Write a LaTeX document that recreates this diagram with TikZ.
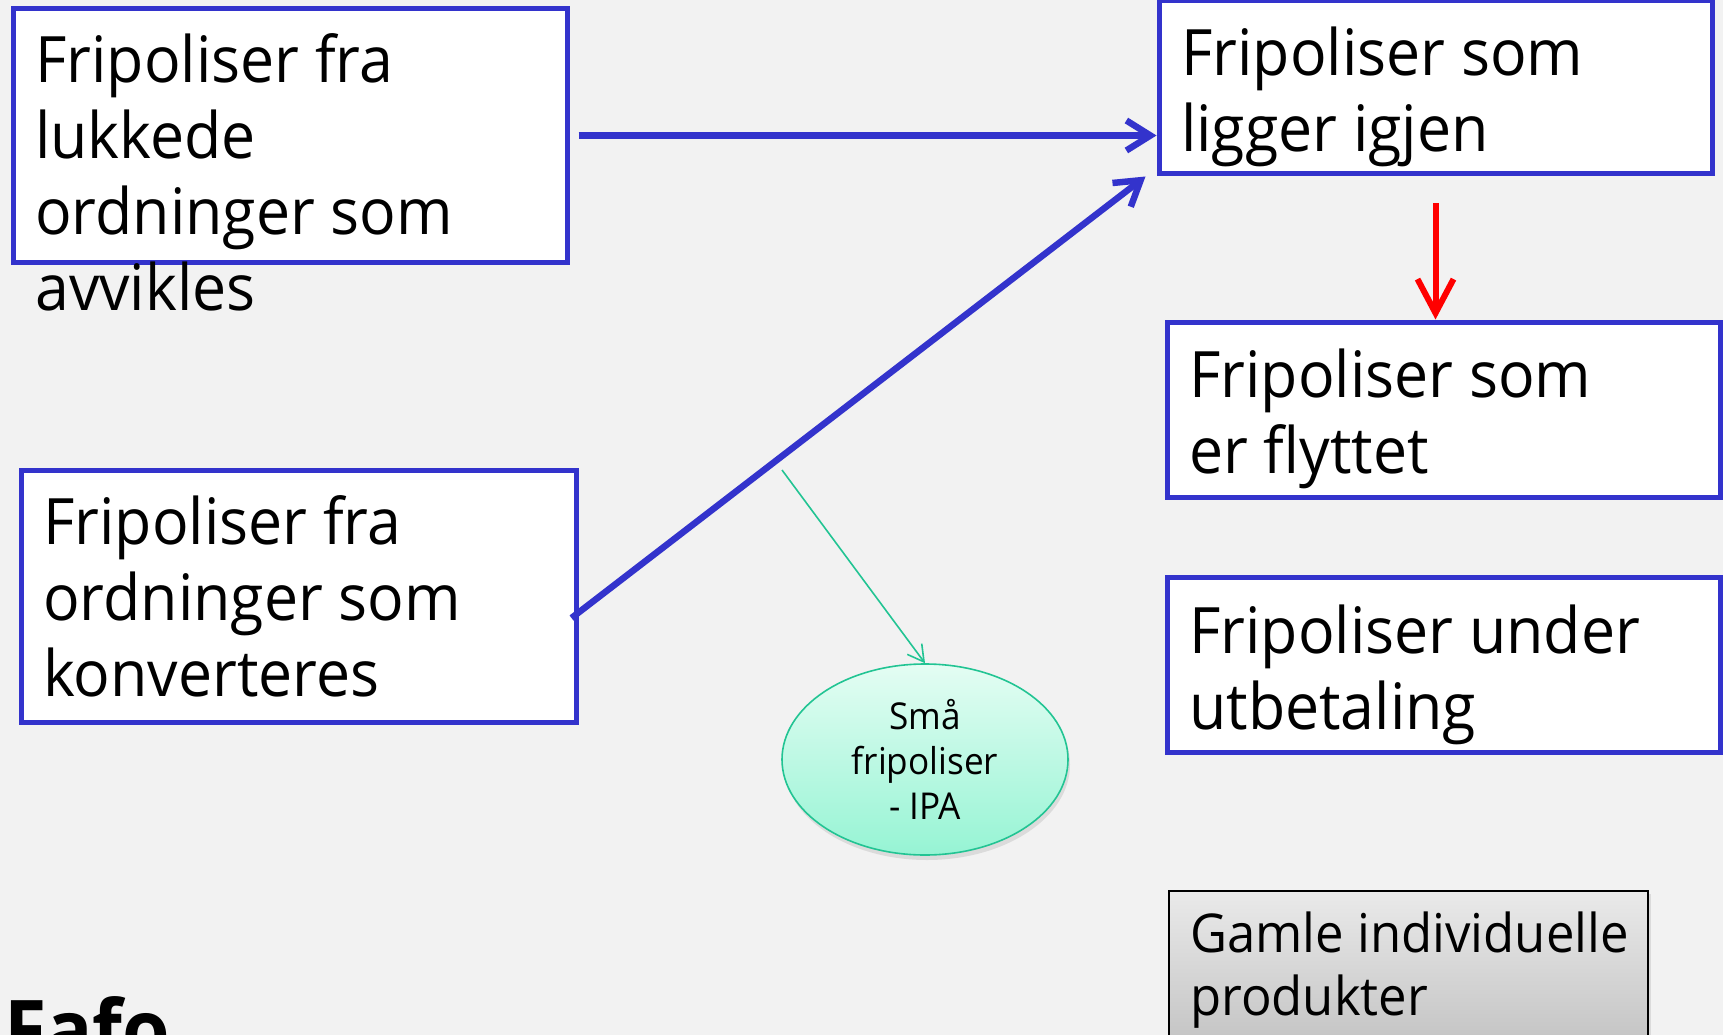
\documentclass[tikz,border=0pt]{standalone}
\usepackage{fontspec}
\setmainfont[FakeStretch=0.95]{Open Sans}
\usetikzlibrary{arrows.meta,shadows,shapes.geometric}
\definecolor{bg}{HTML}{F2F2F2}
\definecolor{bblue}{HTML}{3333CC}
\definecolor{mintline}{HTML}{22C493}
\definecolor{minttop}{HTML}{E4FDF3}
\definecolor{mintbot}{HTML}{96F4D4}
\definecolor{greytop}{HTML}{EAEAEA}
\definecolor{greybot}{HTML}{B8B8B8}
\begin{document}
\begin{tikzpicture}[x=1pt,y=-1pt,
  box/.style={draw=bblue, line width=5pt, fill=white, rectangle, inner sep=0pt},
  txt/.style={anchor=north west, align=left, inner sep=0pt, font=\fontsize{64}{76}\selectfont},
  smalltxt/.style={anchor=north west, align=left, inner sep=0pt, font=\fontsize{53.5}{63}\selectfont},
  bluearrow/.style={draw=bblue, line width=6.5pt, -{Straight Barb[length=24pt,width=30pt]}},
  redarrow/.style={draw=red, line width=6pt, -{Straight Barb[length=34pt,width=36pt]}},
  greenarrow/.style={draw=mintline, line width=1.6pt, -{Straight Barb[length=16pt,width=18pt]}}
]
\useasboundingbox (0,0) rectangle (1723,1035);
\clip (0,0) rectangle (1723,1035);
\fill[bg] (0,0) rectangle (1723,1035);

% boxes
\node[box, minimum width=554pt, minimum height=253pt] (A) at (290,135.5) {};
\node[box, minimum width=555pt, minimum height=252pt] (B) at (298.5,596) {};
\node[box, minimum width=553pt, minimum height=173pt] (C) at (1435.5,87.5) {};
\node[box, minimum width=553pt, minimum height=175pt] (D) at (1443.5,409.5) {};
\node[box, minimum width=553pt, minimum height=175pt] (E) at (1443.5,664.5) {};
\node[draw=black, line width=1.2pt, rectangle, inner sep=0pt, top color=greytop, bottom color=greybot,
      drop shadow={shadow xshift=3pt, shadow yshift=-3pt, opacity=0.2},
      minimum width=479pt, minimum height=200pt] (F) at (1408.5,991) {};

% texts
\node[txt] (tA) at (35,22) {\rule{0pt}{60pt}Fripoliser fra\\lukkede\\ordninger som\\avvikles};
\node[txt] (tB) at (43,484) {\rule{0pt}{60pt}Fripoliser fra\\ordninger som\\konverteres};
\node[txt] (tC) at (1181,15) {\rule{0pt}{60pt}Fripoliser som\\ligger igjen};
\node[txt] (tD) at (1189,337) {\rule{0pt}{60pt}Fripoliser som\\er flyttet};
\node[txt] (tE) at (1189,593) {\rule{0pt}{60pt}Fripoliser under\\utbetaling};
\node[smalltxt] (tF) at (1190,902) {\rule{0pt}{50pt}Gamle individuelle\\produkter};

% ellipse
\node[ellipse, draw=mintline, line width=1.6pt, top color=minttop, bottom color=mintbot,
      drop shadow={shadow xshift=2pt, shadow yshift=-5pt, opacity=0.2},
      minimum width=286pt, minimum height=191pt, inner sep=0pt, align=center,
      font=\fontsize{37}{45}\selectfont] (S) at (925,759.5) {Små\\fripoliser\\- IPA};

% logo text
\node[anchor=north west, inner sep=0pt, font=\fontsize{81}{81}\selectfont\bfseries] (logo) at (4,996) {Fafo};

% connectors
\draw[bluearrow, shorten <=9pt] (A.east) -- (A.east -| C.west);
\draw[bluearrow] ([xshift=-7pt,yshift=-22pt]B.east) -- ([xshift=-11pt]C.south west);
\draw[redarrow, shorten <=27pt] (C.south) -- (C.south |- D.north);
\coordinate (g0) at (782,470);
\draw[greenarrow] (g0) -- (S.north);
\end{tikzpicture}
\end{document}
